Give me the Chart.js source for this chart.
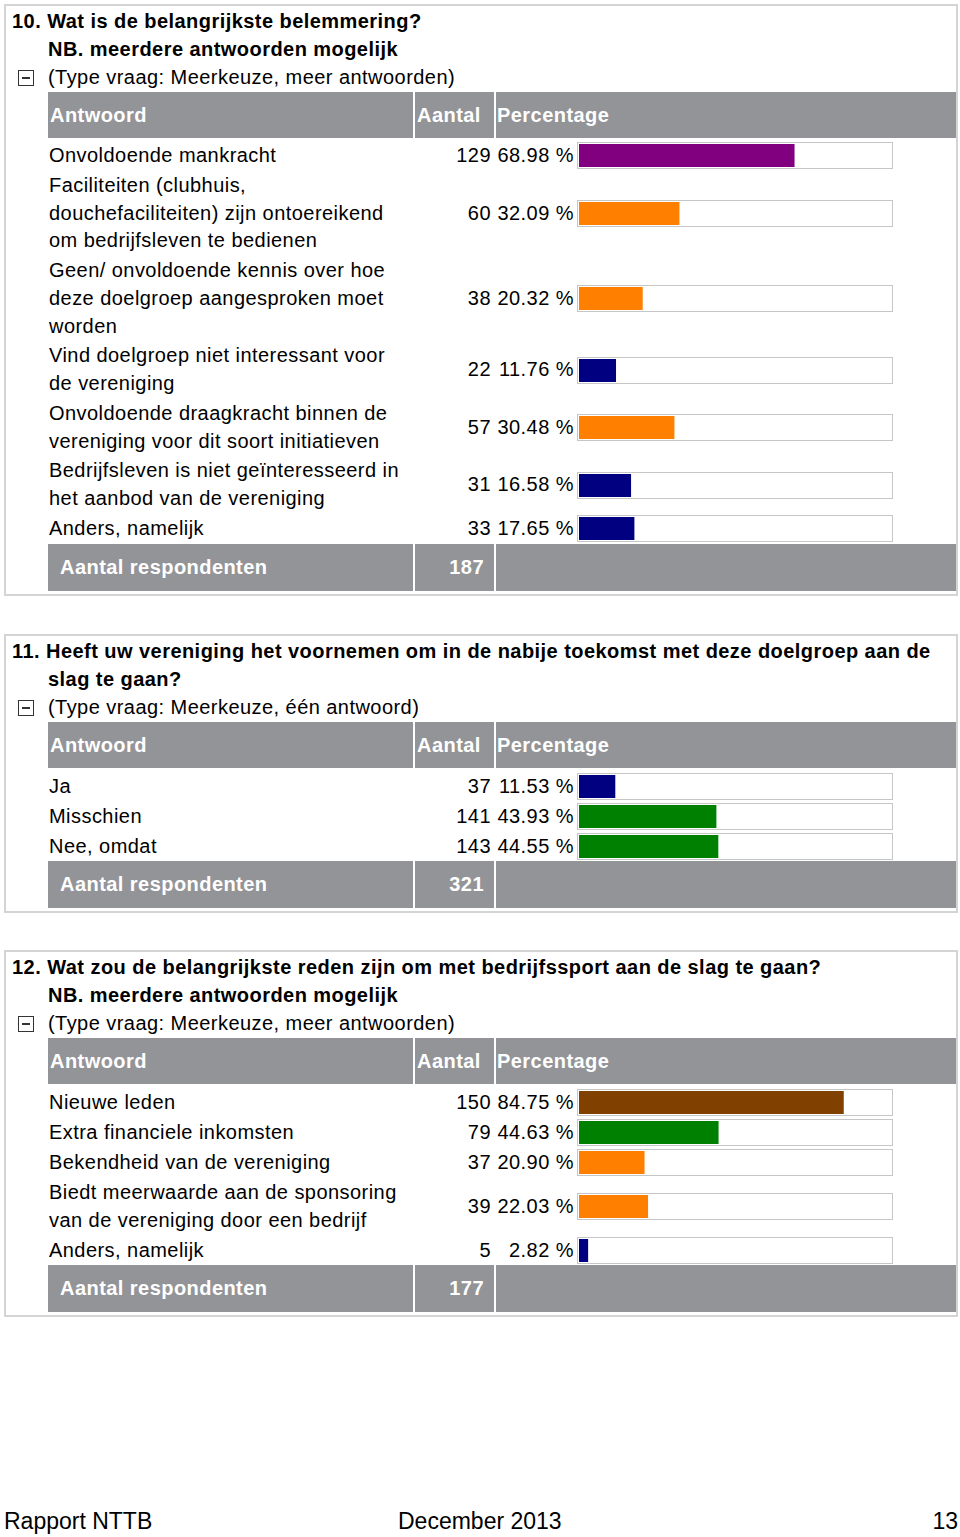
<!DOCTYPE html>
<html>
<head>
<meta charset="utf-8">
<script src="https://cdn.jsdelivr.net/npm/chart.js@4.4.0/dist/chart.umd.min.js"></script>
<style>
body { margin:0; width:960px; height:1537px; position:relative; background:#fff; color:#000;
       font-family:"Liberation Sans", Arial, sans-serif; font-size:20px; letter-spacing:0.45px; }
.box { position:absolute; left:4px; width:950px; border:2px solid #d4d4d4; padding:1px 0 3px 0; }
.tline { line-height:28px; height:28px; white-space:nowrap; }
.tline.b { font-weight:bold; }
.tline.first { padding-left:6px; }
.tline.ind { padding-left:42px; }
.minus { position:absolute; left:12px; width:14px; height:14px; border:1px solid #333; }
.minus:after { content:""; position:absolute; left:3px; right:3px; top:6px; height:2px; background:#333; }
table { margin-left:42px; width:908px; border-collapse:separate; border-spacing:0; margin-top:1px; }
td { padding:0; vertical-align:middle; }
.c1 { width:365px; }
.c2 { width:79px; border-left:2px solid #fff; }
.c3 { border-left:2px solid #fff; }
tr.head td { background:#939498; color:#fff; font-weight:bold; height:46px; line-height:46px; }
tr.head .c1 { padding-left:2px; width:363px; }
tr.head .c2 { padding-left:2px; width:77px; }
tr.head .c3 { padding-left:1px; }
tr.row td { padding:1px 0; }
tr.row.first td { padding-top:4px; }
tr.row td.c1 { padding-left:1px; width:364px; }
tr.row td.c2 { text-align:right; padding-right:3px; width:76px; }
tr.foot td { background:#939498; color:#fff; font-weight:bold; height:47px; line-height:47px; }
tr.foot .c1 { padding-left:12px; width:353px; }
tr.foot .c2 { text-align:right; padding-right:10px; width:69px; }
.pc { display:flex; align-items:center; }
.pct { width:78px; text-align:right; padding-right:1px; white-space:nowrap; }
.frame { margin-left:2px; border:1px solid #c6c6c6; padding:1px; width:312px; height:23px; background:#fff; }
.frame canvas { display:block; }
.pagefoot { position:absolute; top:1507px; font-size:23px; line-height:28px; letter-spacing:0; }
</style>
</head>
<body>

<script>
// vraag 10
const q10Title = ["10. Wat is de belangrijkste belemmering?", "NB. meerdere antwoorden mogelijk"];
const q10Type = "(Type vraag: Meerkeuze, meer antwoorden)";
const q10Answers = [
  ["Onvoldoende mankracht"],
  ["Faciliteiten (clubhuis,", "douchefaciliteiten) zijn ontoereikend", "om bedrijfsleven te bedienen"],
  ["Geen/ onvoldoende kennis over hoe", "deze doelgroep aangesproken moet", "worden"],
  ["Vind doelgroep niet interessant voor", "de vereniging"],
  ["Onvoldoende draagkracht binnen de", "vereniging voor dit soort initiatieven"],
  ["Bedrijfsleven is niet geïnteresseerd in", "het aanbod van de vereniging"],
  ["Anders, namelijk"]
];
const q10Counts = [129, 60, 38, 22, 57, 31, 33];
const q10Percents = [68.98, 32.09, 20.32, 11.76, 30.48, 16.58, 17.65];
const q10Colors = ["#800080", "#ff8000", "#ff8000", "#000080", "#ff8000", "#000080", "#000080"];
const q10Total = 187;

// vraag 11
const q11Title = ["11. Heeft uw vereniging het voornemen om in de nabije toekomst met deze doelgroep aan de", "slag te gaan?"];
const q11Type = "(Type vraag: Meerkeuze, één antwoord)";
const q11Answers = [["Ja"], ["Misschien"], ["Nee, omdat"]];
const q11Counts = [37, 141, 143];
const q11Percents = [11.53, 43.93, 44.55];
const q11Colors = ["#000080", "#008000", "#008000"];
const q11Total = 321;

// vraag 12
const q12Title = ["12. Wat zou de belangrijkste reden zijn om met bedrijfssport aan de slag te gaan?", "NB. meerdere antwoorden mogelijk"];
const q12Type = "(Type vraag: Meerkeuze, meer antwoorden)";
const q12Answers = [
  ["Nieuwe leden"],
  ["Extra financiele inkomsten"],
  ["Bekendheid van de vereniging"],
  ["Biedt meerwaarde aan de sponsoring", "van de vereniging door een bedrijf"],
  ["Anders, namelijk"]
];
const q12Counts = [150, 79, 37, 39, 5];
const q12Percents = [84.75, 44.63, 20.90, 22.03, 2.82];
const q12Colors = ["#804000", "#008000", "#ff8000", "#ff8000", "#000080"];
const q12Total = 177;

const questions = [
  { top: 4,   lh: 27.75, title: q10Title, type: q10Type, answers: q10Answers, counts: q10Counts, pcts: q10Percents, colors: q10Colors, total: q10Total },
  { top: 634, lh: 28, title: q11Title, type: q11Type, answers: q11Answers, counts: q11Counts, pcts: q11Percents, colors: q11Colors, total: q11Total },
  { top: 950, lh: 28, title: q12Title, type: q12Type, answers: q12Answers, counts: q12Counts, pcts: q12Percents, colors: q12Colors, total: q12Total }
];

function drawBar(canvas, label, value, color) {
  new Chart(canvas, {
    type: 'bar',
    data: {
      labels: [label],
      datasets: [{ data: [value], backgroundColor: color, borderWidth: 0,
                   barPercentage: 1, categoryPercentage: 1 }]
    },
    options: {
      indexAxis: 'y',
      responsive: false,
      animation: false,
      events: [],
      layout: { padding: 0 },
      plugins: { legend: { display: false }, tooltip: { enabled: false } },
      scales: {
        x: { min: 0, max: 100, display: false },
        y: { display: false }
      }
    }
  });
}

questions.forEach(function(q) {
  const box = document.createElement('div');
  box.className = 'box';
  box.style.top = q.top + 'px';

  let html = '';
  html += '<div class="tline b first">' + q.title[0] + '</div>';
  html += '<div class="tline b ind">' + q.title[1] + '</div>';
  html += '<div class="tline ind">' + q.type + '</div>';
  html += '<div class="minus" style="top:64px"></div>';

  html += '<table><tr class="head"><td class="c1">Antwoord</td><td class="c2">Aantal</td><td class="c3">Percentage</td></tr>';
  q.answers.forEach(function(a, i) {
    html += '<tr class="row' + (i === 0 ? ' first' : '') + '" style="line-height:' + q.lh + 'px">' +
            '<td class="c1">' + a.join('<br>') + '</td>' +
            '<td class="c2">' + q.counts[i] + '</td>' +
            '<td class="c3"><div class="pc"><span class="pct">' + q.pcts[i].toFixed(2) + ' %</span>' +
            '<div class="frame"><canvas width="312" height="23"></canvas></div></div></td></tr>';
  });
  html += '<tr class="foot"><td class="c1">Aantal respondenten</td><td class="c2">' + q.total + '</td><td class="c3"></td></tr></table>';
  box.innerHTML = html;
  document.body.appendChild(box);

  box.querySelectorAll('canvas').forEach(function(cv, i) {
    drawBar(cv, q.answers[i].join(' '), q.pcts[i], q.colors[i]);
  });
});
</script>

<div class="pagefoot" style="left:4px">Rapport NTTB</div>
<div class="pagefoot" style="left:398px">December 2013</div>
<div class="pagefoot" style="right:2px">13</div>
</body>
</html>
